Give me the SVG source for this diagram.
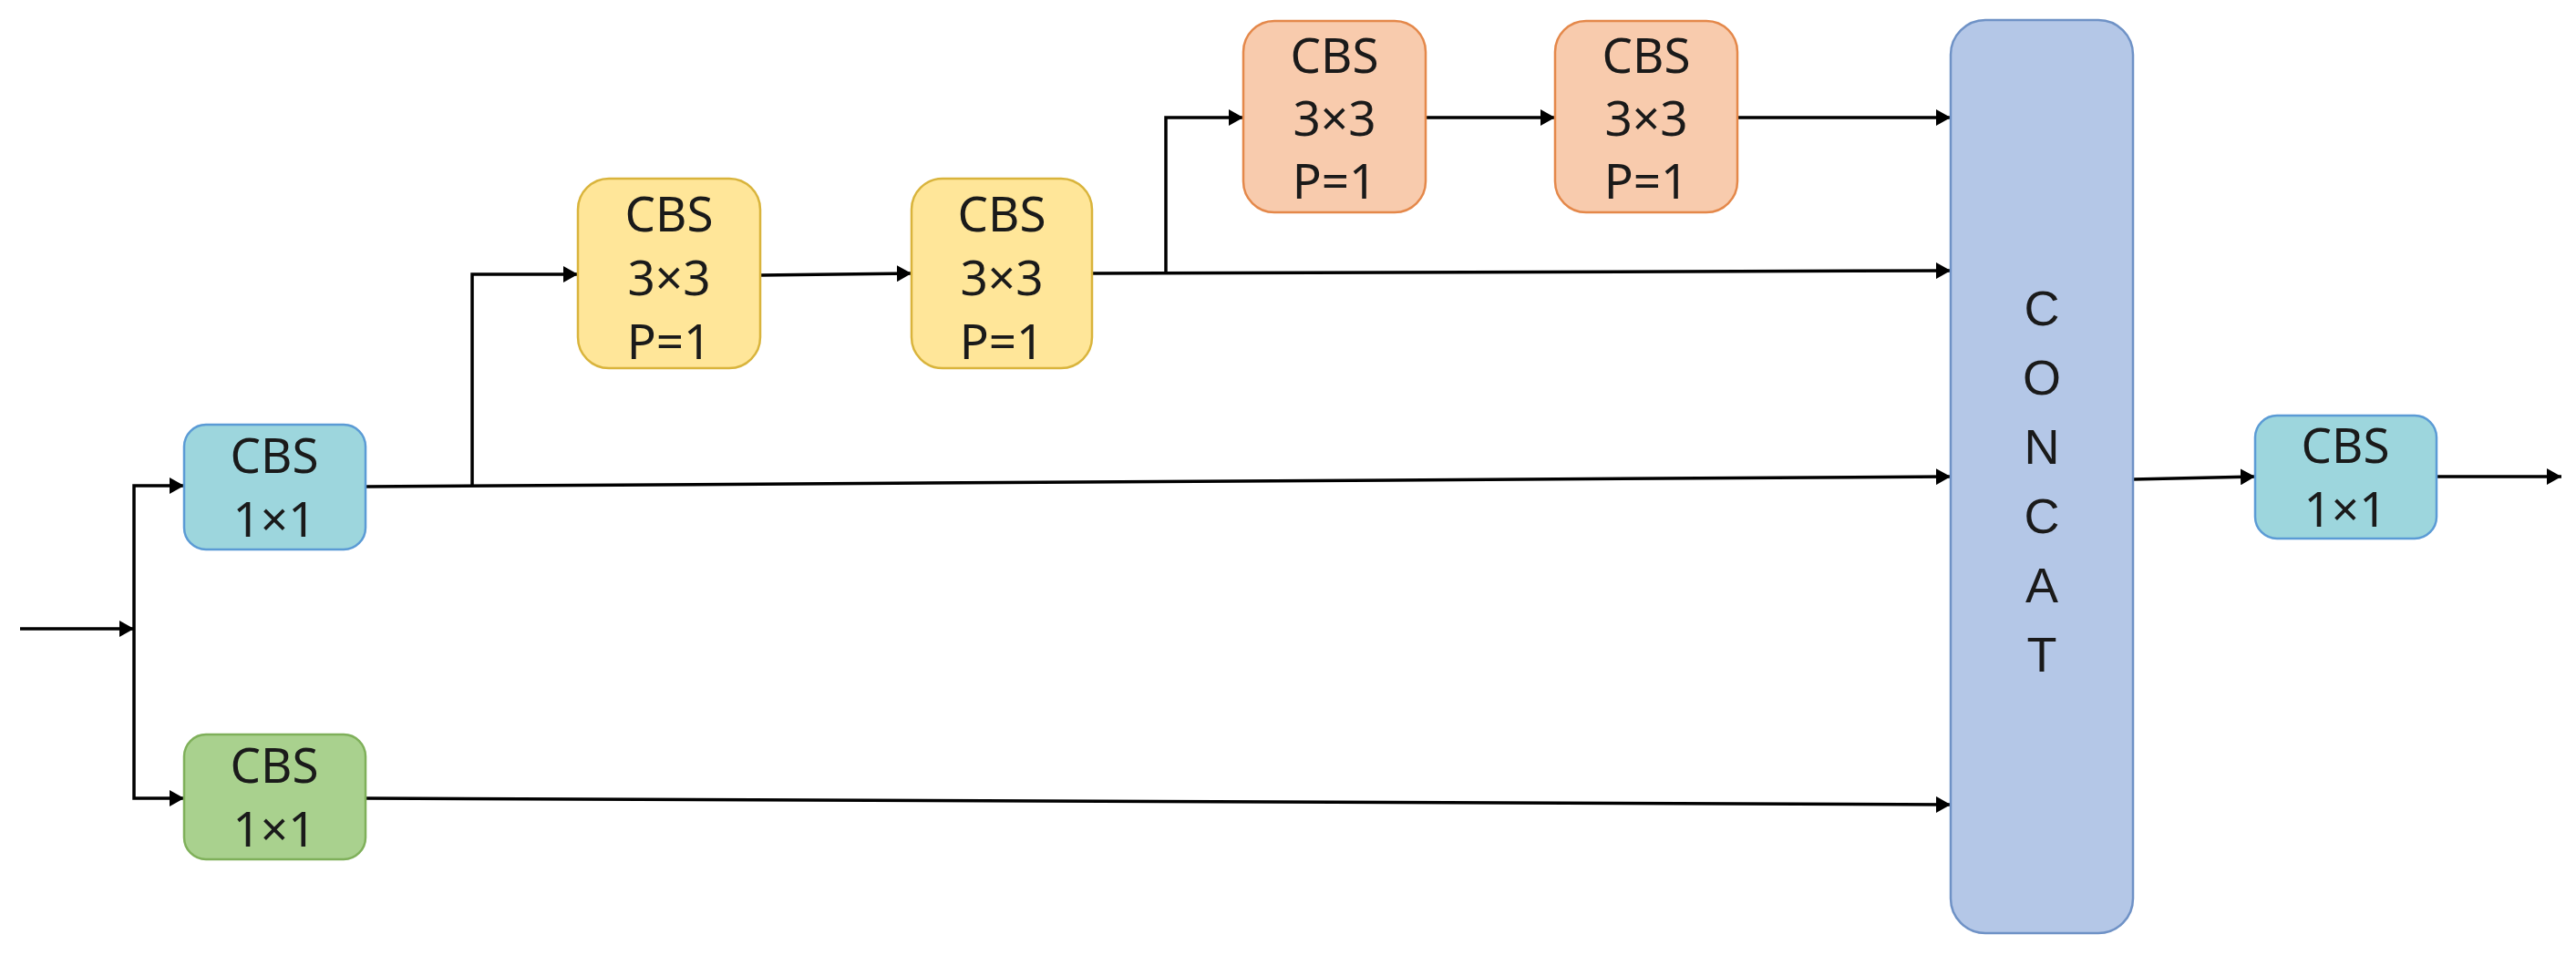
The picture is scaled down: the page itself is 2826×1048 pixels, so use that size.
<svg xmlns="http://www.w3.org/2000/svg" width="2826" height="1048" viewBox="0 0 2826 1048">
<style>
.n{stroke-width:2.5}
.blue{fill:#9DD6DD;stroke:#5B9BD5}
.green{fill:#A9D18E;stroke:#7FB05A}
.yellow{fill:#FFE699;stroke:#D9B43C}
.orange{fill:#F8CBAD;stroke:#E4884A}
.concat{fill:#B4C7E7;stroke:#6F92C6}
.t{font-family:"Noto Sans","Noto Sans CJK SC",sans-serif;font-size:53px;fill:#1a1a1a;text-anchor:middle}
.c{font-family:"Liberation Sans",Arial,sans-serif;font-size:54px;fill:#1a1a1a;text-anchor:middle}
.e{fill:none;stroke:#000;stroke-width:3.5;marker-end:url(#arr)}
</style>
<defs>
<marker id="arr" markerUnits="userSpaceOnUse" markerWidth="18" markerHeight="18" refX="16" refY="9" orient="auto">
<path d="M0,0 L16,9 L0,18 z" fill="#000"/>
</marker>
</defs>
<rect width="2826" height="1048" fill="#fff"/>
<g id="connectors">
<path class="e" d="M22,690 H147"/>
<path class="e" d="M147,690 V533 H202"/>
<path class="e" d="M147,690 V876 H202"/>
<path class="e" d="M401,534 L2140,523"/>
<path class="e" d="M518,534 V301 H634"/>
<path class="e" d="M834,302 L1000,300"/>
<path class="e" d="M1198,300 L2140,297"/>
<path class="e" d="M1279,300 V129 H1364"/>
<path class="e" d="M1564,129 H1706"/>
<path class="e" d="M1906,129 H2140"/>
<path class="e" d="M401,876 L2140,883"/>
<path class="e" d="M2340,526 L2474,523"/>
<path class="e" d="M2673,523 H2810"/>
</g>
<g id="cbs_blue_in">
<rect class="n blue" x="202" y="466" width="199" height="137" rx="24"/>
<text class="t" x="301" y="519">CBS</text>
<text class="t" x="301" y="589">1×1</text>
</g>
<g id="cbs_green">
<rect class="n green" x="202" y="806" width="199" height="137" rx="24"/>
<text class="t" x="301" y="859">CBS</text>
<text class="t" x="301" y="929">1×1</text>
</g>
<g id="cbs_yellow1">
<rect class="n yellow" x="634" y="196" width="200" height="208" rx="34"/>
<text class="t" x="734" y="254">CBS</text>
<text class="t" x="734" y="324">3×3</text>
<text class="t" x="734" y="394">P=1</text>
</g>
<g id="cbs_yellow2">
<rect class="n yellow" x="1000" y="196" width="198" height="208" rx="34"/>
<text class="t" x="1099" y="254">CBS</text>
<text class="t" x="1099" y="324">3×3</text>
<text class="t" x="1099" y="394">P=1</text>
</g>
<g id="cbs_orange1">
<rect class="n orange" x="1364" y="23" width="200" height="210" rx="34"/>
<text class="t" x="1464" y="80">CBS</text>
<text class="t" x="1464" y="149">3×3</text>
<text class="t" x="1464" y="218">P=1</text>
</g>
<g id="cbs_orange2">
<rect class="n orange" x="1706" y="23" width="200" height="210" rx="34"/>
<text class="t" x="1806" y="80">CBS</text>
<text class="t" x="1806" y="149">3×3</text>
<text class="t" x="1806" y="218">P=1</text>
</g>
<g id="concat">
<rect class="n concat" x="2140" y="22" width="200" height="1002" rx="38"/>
<text class="c" x="2240" y="357">C</text>
<text class="c" x="2240" y="433">O</text>
<text class="c" x="2240" y="509">N</text>
<text class="c" x="2240" y="585">C</text>
<text class="c" x="2240" y="661">A</text>
<text class="c" x="2240" y="737">T</text>
</g>
<g id="cbs_blue_out">
<rect class="n blue" x="2474" y="456" width="199" height="135" rx="24"/>
<text class="t" x="2573" y="508">CBS</text>
<text class="t" x="2573" y="578">1×1</text>
</g>
</svg>
